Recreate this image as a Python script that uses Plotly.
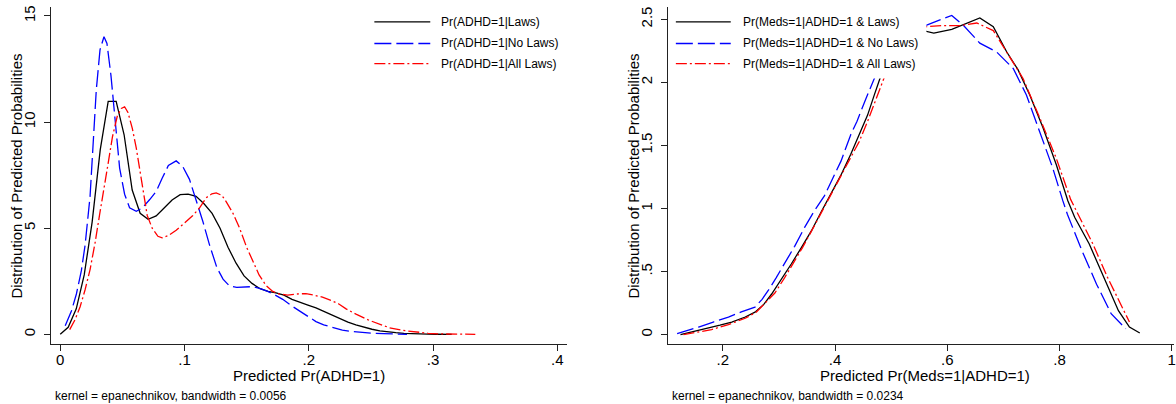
import plotly.graph_objects as go

W, H = 1176, 404
FONT = "Liberation Sans, Arial, Helvetica, sans-serif"

# ---------------- Left panel: Predicted Pr(ADHD=1) ----------------
left_x_laws = [0.000, 0.0064, 0.0129, 0.0193, 0.0257, 0.0322, 0.0386, 0.0450, 0.0514, 0.0579,
               0.0643, 0.0707, 0.0772, 0.0836, 0.0900, 0.0965, 0.1029, 0.1093, 0.1157, 0.1222,
               0.1286, 0.1350, 0.1415, 0.1479, 0.1543, 0.1608, 0.1672, 0.1736, 0.1800, 0.1865,
               0.1929, 0.1993, 0.2058, 0.2122, 0.2186, 0.2250, 0.2315, 0.2379, 0.2443, 0.2508,
               0.2572, 0.2636, 0.2700, 0.2765, 0.2829, 0.2893, 0.2958, 0.3022, 0.3086, 0.3150]
left_y_laws = [0.00, 0.33, 1.20, 2.80, 5.30, 8.70, 10.97, 10.97, 9.40, 6.80,
               5.70, 5.42, 5.58, 5.95, 6.33, 6.58, 6.60, 6.50, 6.15, 5.70,
               5.00, 4.10, 3.35, 2.75, 2.40, 2.15, 2.02, 1.95, 1.85, 1.65,
               1.50, 1.38, 1.25, 1.08, 0.90, 0.72, 0.58, 0.45, 0.33, 0.24,
               0.16, 0.11, 0.08, 0.05, 0.03, 0.02, 0.01, 0.005, 0.002, 0.00]

left_x_nolaws = [0.0040, 0.0090, 0.0130, 0.0170, 0.0200, 0.0240, 0.0290, 0.0320, 0.0352, 0.0376,
                 0.0408, 0.0438, 0.0478, 0.0518, 0.0558, 0.0612, 0.0660, 0.0720, 0.0773, 0.0820,
                 0.0870, 0.0933, 0.0986, 0.1040, 0.1090, 0.1147, 0.1200, 0.1260, 0.1310, 0.1360,
                 0.1420, 0.1490, 0.1550, 0.1610, 0.1670, 0.1730, 0.1790, 0.1860, 0.1924, 0.1990,
                 0.2058, 0.2120, 0.2190, 0.2270, 0.2350, 0.2430, 0.2510, 0.2600, 0.2700, 0.2790]
left_y_nolaws = [0.40, 1.10, 1.90, 3.00, 4.20, 6.50, 11.50, 13.40, 14.02, 13.70,
                 12.20, 10.30, 7.83, 6.60, 5.96, 5.80, 5.95, 6.35, 6.74, 7.35,
                 7.95, 8.17, 7.90, 7.30, 6.40, 5.33, 4.24, 3.15, 2.60, 2.29,
                 2.21, 2.24, 2.25, 2.15, 2.02, 1.85, 1.65, 1.35, 1.10, 0.85,
                 0.60, 0.45, 0.32, 0.20, 0.13, 0.08, 0.05, 0.03, 0.01, 0.00]

left_x_all = [0.0076, 0.0120, 0.0160, 0.0200, 0.0240, 0.0280, 0.0317, 0.0350, 0.0384, 0.0420,
              0.0460, 0.0492, 0.0518, 0.0545, 0.0580, 0.0612, 0.0640, 0.0665, 0.0700, 0.0740,
              0.0786, 0.0820, 0.0870, 0.0933, 0.1000, 0.1067, 0.1120, 0.1174, 0.1220, 0.1255,
              0.1300, 0.1335, 0.1390, 0.1442, 0.1500, 0.1550, 0.1600, 0.1656, 0.1710, 0.1763,
              0.1830, 0.1900, 0.1977, 0.2040, 0.2110, 0.2180, 0.2245, 0.2300, 0.2380, 0.2486,
              0.2570, 0.2650, 0.2750, 0.2860, 0.2960, 0.3060, 0.3200, 0.3340]
left_y_all = [0.22, 0.70, 1.30, 2.10, 3.05, 4.30, 5.65, 6.90, 8.00, 9.30,
              10.30, 10.64, 10.72, 10.45, 9.70, 8.77, 7.80, 6.90, 5.60, 5.00,
              4.62, 4.55, 4.65, 4.90, 5.25, 5.60, 5.95, 6.43, 6.62, 6.66,
              6.55, 6.25, 5.70, 5.02, 4.10, 3.46, 2.80, 2.30, 2.02, 1.90,
              1.85, 1.90, 1.92, 1.85, 1.75, 1.60, 1.42, 1.20, 0.95, 0.66,
              0.47, 0.31, 0.19, 0.11, 0.05, 0.02, 0.005, 0.00]

left_xticks = [0, 0.1, 0.2, 0.3, 0.4]
left_xtick_labels = ["0", ".1", ".2", ".3", ".4"]
left_yticks = [0, 5, 10, 15]
left_ytick_labels = ["0", "5", "10", "15"]
left_names = ["Pr(ADHD=1|Laws)", "Pr(ADHD=1|No Laws)", "Pr(ADHD=1|All Laws)"]
left_xtitle = "Predicted Pr(ADHD=1)"
left_note = "kernel = epanechnikov, bandwidth = 0.0056"

# ---------------- Right panel: Predicted Pr(Meds=1|ADHD=1) ----------------
right_x_laws = [0.1246, 0.1450, 0.1690, 0.1950, 0.2160, 0.2400, 0.2573, 0.2730, 0.2867, 0.3050,
                0.3220, 0.3400, 0.3575, 0.3750, 0.3930, 0.4100, 0.4280, 0.4430, 0.4580, 0.4700,
                0.4800, 0.5000, 0.5300, 0.5610, 0.5760, 0.6080, 0.6580, 0.6820, 0.7060, 0.7260,
                0.7470, 0.7706, 0.7940, 0.8150, 0.8270, 0.8530, 0.8790, 0.9050, 0.9246, 0.9430]
right_y_laws = [0.00, 0.02, 0.047, 0.075, 0.10, 0.14, 0.178, 0.24, 0.32, 0.44,
                0.56, 0.69, 0.82, 0.97, 1.12, 1.26, 1.43, 1.58, 1.74, 1.90,
                2.03, 2.22, 2.36, 2.405, 2.39, 2.42, 2.51, 2.44, 2.24, 2.10,
                1.90, 1.64, 1.35, 1.06, 0.93, 0.718, 0.454, 0.19, 0.06, 0.013]

right_x_nolaws = [0.1186, 0.1370, 0.1570, 0.1830, 0.2100, 0.2330, 0.2573, 0.2700, 0.2810, 0.2950,
                  0.3100, 0.3280, 0.3458, 0.3630, 0.3810, 0.3960, 0.4106, 0.4280, 0.4390, 0.4550,
                  0.4700, 0.4900, 0.5200, 0.5610, 0.5850, 0.6080, 0.6290, 0.6580, 0.6880, 0.7175,
                  0.7410, 0.7646, 0.7880, 0.8060, 0.8140, 0.8400, 0.8660, 0.8920, 0.9180]
right_y_nolaws = [0.008, 0.03, 0.06, 0.10, 0.139, 0.18, 0.218, 0.28, 0.35, 0.45,
                  0.56, 0.70, 0.85, 0.98, 1.10, 1.24, 1.375, 1.585, 1.69, 1.87,
                  2.03, 2.22, 2.38, 2.45, 2.49, 2.53, 2.45, 2.31, 2.24, 2.11,
                  1.90, 1.61, 1.32, 1.06, 0.954, 0.665, 0.40, 0.166, 0.047]

right_x_all = [0.1300, 0.1570, 0.1800, 0.2100, 0.2400, 0.2600, 0.2750, 0.2928, 0.3100, 0.3250,
               0.3420, 0.3580, 0.3750, 0.3930, 0.4100, 0.4280, 0.4430, 0.4580, 0.4730, 0.4870,
               0.5100, 0.5400, 0.5610, 0.5940, 0.6230, 0.6525, 0.6820, 0.7115, 0.7350, 0.7646,
               0.7940, 0.8200, 0.8330, 0.8595, 0.8855, 0.9115, 0.9246]
right_y_all = [0.00, 0.02, 0.04, 0.08, 0.13, 0.18, 0.25, 0.33, 0.45, 0.56,
               0.69, 0.82, 0.96, 1.11, 1.25, 1.40, 1.53, 1.69, 1.86, 2.03,
               2.25, 2.40, 2.44, 2.45, 2.45, 2.47, 2.41, 2.20, 2.03, 1.72,
               1.40, 1.07, 0.954, 0.718, 0.454, 0.218, 0.10]

right_xticks = [0.2, 0.4, 0.6, 0.8, 1.0]
right_xtick_labels = [".2", ".4", ".6", ".8", "1"]
right_yticks = [0, 0.5, 1, 1.5, 2, 2.5]
right_ytick_labels = ["0", ".5", "1", "1.5", "2", "2.5"]
right_names = ["Pr(Meds=1|ADHD=1 & Laws)", "Pr(Meds=1|ADHD=1 & No Laws)",
               "Pr(Meds=1|ADHD=1 & All Laws)"]
right_xtitle = "Predicted Pr(Meds=1|ADHD=1)"
right_note = "kernel = epanechnikov, bandwidth = 0.0234"

ytitle = "Distribution of Predicted Probabilities"

# ---------------- styles ----------------
COLORS = ["#000000", "#0000ff", "#ff0000"]
DASHES = ["solid", "17px,5px", "11px,3px,2px,3px"]
LW = 1.3
AXC = "#222222"


def px2x(p):
    return p / W


def px2y(p):
    return 1 - p / H


fig = go.Figure()

panels = [
    ([(left_x_laws, left_y_laws), (left_x_nolaws, left_y_nolaws), (left_x_all, left_y_all)],
     left_names, "x", "y"),
    ([(right_x_laws, right_y_laws), (right_x_nolaws, right_y_nolaws), (right_x_all, right_y_all)],
     right_names, "x2", "y2"),
]
for series, names, xa, ya in panels:
    for (xs, ys), nm, c, d in zip(series, names, COLORS, DASHES):
        fig.add_trace(go.Scatter(x=xs, y=ys, mode="lines", name=nm, xaxis=xa, yaxis=ya,
                                 line=dict(color=c, width=LW, dash=d), showlegend=False,
                                 hoverinfo="skip"))

ydom = [px2y(344), px2y(5)]
axis_common = dict(showline=True, linecolor=AXC, linewidth=1, ticks="outside", ticklen=6,
                   tickcolor=AXC, tickwidth=1, showgrid=False, zeroline=False,
                   ticklabeloverflow="allow",
                   tickfont=dict(family=FONT, size=15, color="#000"))
xaxis_extra = dict(ticklabelstandoff=-4)
yaxis_extra = dict(ticklabelstandoff=3, tickangle=-90)

fig.update_layout(
    width=W, height=H, margin=dict(l=0, r=0, t=0, b=0),
    paper_bgcolor="white", plot_bgcolor="white", showlegend=False,
    xaxis=dict(domain=[px2x(51), px2x(568)], range=[-0.0075, 0.4078], anchor="y",
               tickmode="array", tickvals=left_xticks, ticktext=left_xtick_labels,
               **axis_common, **xaxis_extra),
    yaxis=dict(domain=ydom, range=[-0.469, 15.42], anchor="x",
               tickmode="array", tickvals=left_yticks, ticktext=left_ytick_labels,
               **axis_common, **yaxis_extra),
    xaxis2=dict(domain=[px2x(669), 1.0], range=[0.1021, 1.004], anchor="y2",
                tickmode="array", tickvals=right_xticks, ticktext=right_xtick_labels,
                **axis_common, **xaxis_extra),
    yaxis2=dict(domain=ydom, range=[-0.0765, 2.597], anchor="x2",
                tickmode="array", tickvals=right_yticks, ticktext=right_ytick_labels,
                **axis_common, **yaxis_extra),
)

# ---------------- legends (drawn inside each panel, white box) ----------------
shapes = []
annotations = []
legend_specs = [
    (left_names, 368, 572, 375, 431, 440),
    (right_names, 671, 928, 677, 732, 742),
]
rows = [20, 41.7, 62]
for names, bx0, bx1, lx0, lx1, tx in legend_specs:
    shapes.append(dict(type="rect", xref="paper", yref="paper",
                       x0=px2x(bx0), x1=px2x(bx1), y0=px2y(77), y1=px2y(4),
                       fillcolor="white", line=dict(width=0), layer="above"))
    for nm, c, d, ry in zip(names, COLORS, DASHES, rows):
        shapes.append(dict(type="line", xref="paper", yref="paper",
                           x0=px2x(lx0), x1=px2x(lx1), y0=px2y(ry), y1=px2y(ry),
                           line=dict(color=c, width=LW, dash=d), layer="above"))
        annotations.append(dict(xref="paper", yref="paper", x=px2x(tx), y=px2y(ry),
                                xanchor="left", yanchor="middle", showarrow=False,
                                text=nm, font=dict(family=FONT, size=12, color="#000")))

# axis titles
for xt, cx in [(left_xtitle, 309.5), (right_xtitle, 927)]:
    annotations.append(dict(xref="paper", yref="paper", x=px2x(cx), y=px2y(375),
                            xanchor="center", yanchor="middle", showarrow=False,
                            text=xt, font=dict(family=FONT, size=15, color="#000")))
for cx in [17, 635]:
    annotations.append(dict(xref="paper", yref="paper", x=px2x(cx), y=px2y(174.5),
                            xanchor="center", yanchor="middle", showarrow=False,
                            textangle=-90, text=ytitle,
                            font=dict(family=FONT, size=15, color="#000")))

for note, nx in [(left_note, 53), (right_note, 671)]:
    annotations.append(dict(xref="paper", yref="paper", x=px2x(nx), y=px2y(396),
                            xanchor="left", yanchor="middle", showarrow=False,
                            text=note, font=dict(family=FONT, size=12, color="#000")))

fig.update_layout(shapes=shapes, annotations=annotations)
fig.write_html("out.html", config={"displayModeBar": False},
               post_script="document.body.style.margin='0px';document.body.style.overflow='hidden';")
